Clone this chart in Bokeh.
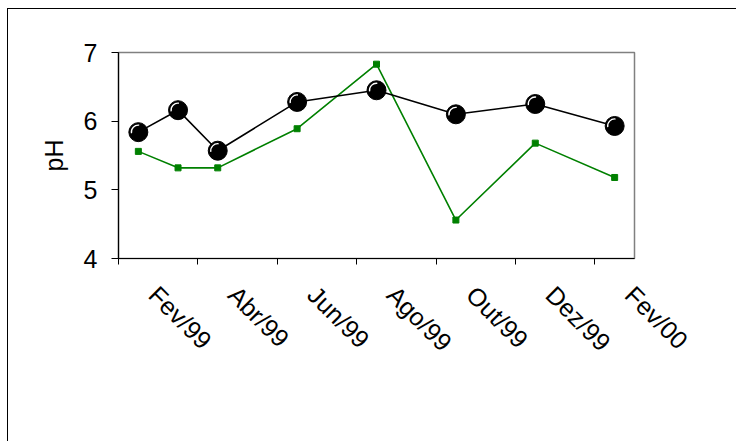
from math import pi
from bokeh.plotting import figure
from bokeh.models import (Range1d, FixedTicker, Legend, LegendItem, ColumnDataSource,
                          InlineStyleSheet)
from bokeh.embed import file_html
from bokeh.resources import INLINE

# ---- data ----
months_est1 = ["Fev/99", "Mar/99", "Abr/99", "Jun/99", "Ago/99", "Out/99", "Dez/99", "Fev/00"]
ph_est1 = [5.84, 6.16, 5.57, 6.28, 6.45, 6.10, 6.25, 5.93]
months_est2 = ["Fev/99", "Mar/99", "Abr/99", "Jun/99", "Ago/99", "Out/99", "Dez/99", "Fev/00"]
ph_est2 = [5.56, 5.32, 5.32, 5.89, 6.83, 4.56, 5.68, 5.18]
tick_labels = ["Fev/99", "Abr/99", "Jun/99", "Ago/99", "Out/99", "Dez/99", "Fev/00"]
y_ticks = [4, 5, 6, 7]

MES = {"Jan": 1, "Fev": 2, "Mar": 3, "Abr": 4, "Mai": 5, "Jun": 6,
       "Jul": 7, "Ago": 8, "Set": 9, "Out": 10, "Nov": 11, "Dez": 12}


def month_index(label):
    m, y = label.split("/")
    yy = int(y)
    year = 1900 + yy if yy > 50 else 2000 + yy
    return (year - 1999) * 12 + MES[m] - 2


def month_center(label):
    return month_index(label) + 0.5


FONT = "Liberation Sans"
LABEL_SHIFT = 0.38  # label anchor sits a little right of the month centre (style)

src1 = ColumnDataSource(dict(x=[month_center(m) for m in months_est1], y=ph_est1))
src2 = ColumnDataSource(dict(x=[month_center(m) for m in months_est2], y=ph_est2))

border_css = InlineStyleSheet(css="""
:host::after {
  content: ""; position: absolute; left: 7px; top: 8px; right: -20px; bottom: -20px;
  border-left: 1.5px solid #000; border-top: 1.5px solid #000; pointer-events: none;
}
""")

p = figure(width=736, height=441, frame_width=516, frame_height=206,
           output_backend="svg", toolbar_location=None,
           x_range=Range1d(0, month_index("Fev/00") + 1), y_range=Range1d(4, 7),
           min_border_left=118, min_border_right=102, min_border_top=52,
           min_border_bottom=0, stylesheets=[border_css])
p.xgrid.visible = False
p.ygrid.visible = False
p.outline_line_color = "#808080"
p.outline_line_width = 1.5
p.background_fill_color = "white"
p.border_fill_color = "white"

# x axis
label_pos = [month_index(l) + 0.5 + LABEL_SHIFT for l in tick_labels]
p.xaxis.ticker = FixedTicker(ticks=label_pos,
                             minor_ticks=[month_index(l) for l in tick_labels])
p.xaxis.major_label_overrides = {c: l for c, l in zip(label_pos, tick_labels)}
p.xaxis.major_label_orientation = -pi / 4
p.xaxis.major_tick_in = 0
p.xaxis.major_tick_out = 0
p.xaxis.minor_tick_in = 0
p.xaxis.minor_tick_out = 6
p.xaxis.minor_tick_line_color = "black"
p.xaxis.axis_line_color = "black"
p.xaxis.axis_line_width = 1.2
p.xaxis.major_label_text_font = FONT
p.xaxis.major_label_text_font_size = "25px"
p.xaxis.major_label_text_color = "black"
p.xaxis.major_label_standoff = 26

# y axis
p.yaxis.ticker = FixedTicker(ticks=y_ticks, minor_ticks=[])
p.yaxis.major_tick_in = 0
p.yaxis.major_tick_out = 7
p.yaxis.major_tick_line_color = "black"
p.yaxis.axis_line_color = "black"
p.yaxis.axis_line_width = 1.2
p.yaxis.major_label_text_font = FONT
p.yaxis.major_label_text_font_size = "25px"
p.yaxis.major_label_text_color = "black"
p.yaxis.major_label_standoff = 14
p.yaxis.axis_label = "pH"
p.yaxis.axis_label_text_font = FONT
p.yaxis.axis_label_text_font_size = "25px"
p.yaxis.axis_label_text_font_style = "normal"
p.yaxis.axis_label_text_color = "black"
p.yaxis.axis_label_standoff = 13

# series 2 (green)
l2 = p.line("x", "y", source=src2, line_color="#008000", line_width=1.6)
s2 = p.scatter("x", "y", source=src2, marker="square", size=6,
               fill_color="#008000", line_color="#008000")

# series 1 (black balls)
l1 = p.line("x", "y", source=src1, line_color="black", line_width=1.6)
c1 = p.scatter("x", "y", source=src1, marker="circle", size=19,
               fill_color="black", line_color="black")
p.arc("x", "y", source=src1, radius=7, radius_units="screen",
      start_angle=1.45, end_angle=3.3, line_color="white", line_width=1.3)

legend = Legend(items=[LegendItem(label="pH (Est. 1)", renderers=[l1, c1]),
                       LegendItem(label="pH (Est. 2)", renderers=[l2, s2])],
                orientation="horizontal", location=(65, 38),
                border_line_color=None, background_fill_alpha=0,
                label_text_font=FONT, label_text_font_size="26px",
                label_text_color="black",
                glyph_width=55, glyph_height=22, spacing=13, margin=0,
                label_standoff=6, padding=0)
p.add_layout(legend, "below")

open("out.html", "w").write(file_html(p, INLINE))
